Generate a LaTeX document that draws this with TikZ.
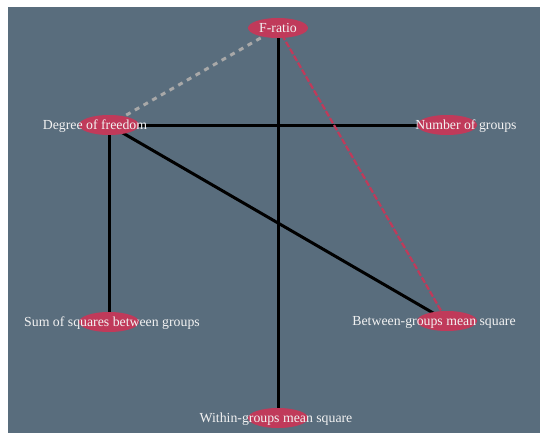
\documentclass[tikz,border=0pt]{standalone}
\usepackage{fontspec}
\setmainfont{Liberation Serif}
\usetikzlibrary{shapes.geometric}
\definecolor{slate}{HTML}{596D7D}
\definecolor{crim}{HTML}{C03A5A}
\definecolor{lbl}{HTML}{F2F2F2}
\definecolor{dgrey}{HTML}{A8A8A8}
\tikzset{
  blob/.style={ellipse, fill=crim, draw=none, minimum width=60pt, minimum height=20pt, inner sep=0pt},
  lab/.style={text=lbl, font=\fontsize{13.8}{16}\selectfont, inner sep=0pt, anchor=center, yshift=-1.5pt},
  edge/.style={line width=3pt, black},
  gdash/.style={line width=3pt, dgrey, dash pattern=on 5pt off 5pt},
  rdash/.style={line width=2.2pt, crim, dash pattern=on 6pt off 2pt},
}
\begin{document}
\begin{tikzpicture}[x=1pt, y=-1pt]
\useasboundingbox (0,0) rectangle (540,433);
\fill[slate] (8,7) rectangle (540,433);
% node positions
\coordinate (F) at (278,28);
\coordinate (D) at (109,125);
\coordinate (N) at (447,125);
\coordinate (S) at (109,322);
\coordinate (B) at (447,321);
\coordinate (W) at (278,418);
% edges
\draw[gdash] (F) -- (D);
\draw[edge] (F) -- (W);
\draw[edge] (D) -- (N);
\draw[edge] (D) -- (S);
\draw[edge] (D) -- (B);
\draw[rdash] (F) -- (B);
% ellipses
\node[blob] (f) at (F) {};
\node[blob] (d) at (D) {};
\node[blob] (n) at (N) {};
\node[blob] (s) at (S) {};
\node[blob] (b) at (B) {};
\node[blob] (w) at (W) {};
% labels
\node[lab] (tf) at (278,27) {F-ratio};
\node[lab] (td) at (95,125) {Degree of freedom};
\node[lab] (tn) at (466,125) {Number of groups};
\node[lab] (ts) at (112,322) {Sum of squares between groups};
\node[lab] (tb) at (434,321) {Between-groups mean square};
\node[lab] (tw) at (276,418) {Within-groups mean square};
\end{tikzpicture}
\end{document}
